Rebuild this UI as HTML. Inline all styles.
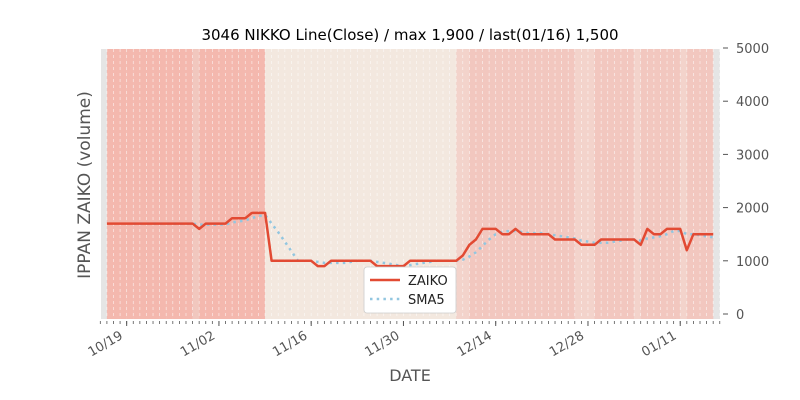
<!DOCTYPE html>
<html><head><meta charset="utf-8"><style>
body{margin:0;background:#fff;font-family:"Liberation Sans","DejaVu Sans",sans-serif}
svg{display:block}
</style></head><body>
<svg id="chart" width="800" height="400" viewBox="0 0 800 400" xmlns="http://www.w3.org/2000/svg">
<rect x="0" y="0" width="800" height="400" fill="#fff"/>
<text x="410" y="40" font-size="15" text-anchor="middle" fill="#000" font-family="DejaVu Sans, sans-serif">3046 NIKKO Line(Close) / max 1,900 / last(01/16) 1,500</text>
<g id="plot"></g>
<text transform="translate(90,185) rotate(-90)" font-size="17" text-anchor="middle" fill="#555" font-family="DejaVu Sans, sans-serif">IPPAN ZAIKO (volume)</text>
<text x="410" y="381" font-size="16" text-anchor="middle" fill="#555" font-family="DejaVu Sans, sans-serif">DATE</text>
<g>
<rect x="364" y="267" width="92" height="46" rx="3" fill="#fff" stroke="#ccc" stroke-width="0.8"/>
<line x1="370" y1="280" x2="400" y2="280" stroke="#e24a33" stroke-width="2.5"/>
<text x="408" y="285" font-size="13" fill="#222" font-family="DejaVu Sans, sans-serif">ZAIKO</text>
<line x1="370" y1="299" x2="400" y2="299" stroke="#92c6e0" stroke-width="2.5" stroke-dasharray="2.5 4.2"/>
<text x="408" y="304" font-size="13" fill="#222" font-family="DejaVu Sans, sans-serif">SMA5</text>
</g>
</svg>
<script>
const zaiko=[1700,1700,1700,1700,1700,1700,1700,1700,1700,1700,1700,1700,1700,1700,1600,1700,1700,1700,1700,1800,1800,1800,1900,1900,1900,
1000,1000,1000,1000,1000,1000,1000,900,900,1000,1000,1000,1000,1000,1000,1000,900,900,900,900,900,1000,1000,1000,1000,1000,1000,1000,1000,
1100,1300,1400,1600,1600,1600,1500,1500,1600,1500,1500,1500,1500,1500,1400,1400,1400,1400,1300,1300,1300,1400,1400,1400,1400,1400,1400,1300,1600,1500,1500,1600,1600,1600,1200,1500,1500,1500,1500];
const sma5=[null,null,null,null,1700,1700,1700,1700,1700,1700,1700,1700,1700,1700,1680,1680,1680,1680,1680,1720,1740,1760,1800,1840,1860,
1700,1540,1360,1180,1000,1000,1000,980,960,960,960,960,980,1000,1000,1000,980,960,940,920,900,920,940,960,980,1000,1000,1000,1000,
1020,1080,1160,1280,1400,1500,1540,1560,1560,1540,1520,1520,1520,1500,1480,1460,1440,1420,1380,1360,1340,1340,1340,1360,1380,1400,1400,1380,1420,1440,1460,1500,1560,1560,1500,1500,1480,1460,1440];
// background band category per day interval: 1=red,2=light red,3=beige,4=light pink,5=pink
const bands=[1,1,1,1,1,1,1,1,1,1,1,1,1,2,1,1,1,1,1,1,1,1,1,1,
3,3,3,3,3,3,3,3,3,3,3,3,3,3,3,3,3,3,3,3,3,3,3,3,3,3,3,3,3,
4,4,5,5,5,5,5,5,5,5,5,5,5,5,5,5,5,5,4,4,4,5,5,5,5,5,5,4,5,5,5,5,5,5,4,5,5,5,5];
const yTicks=[0,1000,2000,3000,4000,5000];
const xTickLabels=["10/19","11/02","11/16","11/30","12/14","12/28","01/11"];
const xTickDays=[3,17,31,45,59,73,87];
const bandColors=["#e5e5e5","#f4b8ae","#f1c7be","#f3e8df","#f3d3cb","#f2c7bf"];
const NS="http://www.w3.org/2000/svg";
const L=101,R=720,T=49,B=319;
const X=d=>106.9+6.59*d;
const Y=v=>314-v*0.0532;
const g=document.getElementById('plot');
function mk(t,a){const e=document.createElementNS(NS,t);for(const k in a)e.setAttribute(k,a[k]);g.appendChild(e);return e;}
const bg=mk('rect',{x:L,y:T,width:R-L,height:B-T,fill:'#e5e5e5'});


bands.forEach((c,i)=>{const r=mk('rect',{x:X(i),y:T,width:6.7,height:B-T,fill:bandColors[c]});

});
for(let d=-1;d<=93;d++){const l=mk('line',{x1:X(d),x2:X(d),y1:T,y2:B,stroke:'#fff','stroke-width':0.7,'stroke-dasharray':'3 3',opacity:0.7});


const t=mk('line',{x1:X(d),x2:X(d),y1:B+2,y2:B+5,stroke:'#555','stroke-width':0.8});

}
xTickDays.forEach((d,i)=>{const t=mk('line',{x1:X(d),x2:X(d),y1:B+2,y2:B+7,stroke:'#555','stroke-width':1});


const tx=mk('text',{x:0,y:0,'font-size':13,fill:'#555','text-anchor':'end','font-family':'DejaVu Sans, sans-serif',transform:`translate(${X(d)-3},${B+19}) rotate(-30)`});
tx.textContent=xTickLabels[i];

});
yTicks.forEach(v=>{const t=mk('line',{x1:R+3,x2:R+8,y1:Y(v),y2:Y(v),stroke:'#555','stroke-width':1});


const tx=mk('text',{x:R+16,y:Y(v)+5,'font-size':13,fill:'#555','font-family':'DejaVu Sans, sans-serif'});
tx.textContent=v;

});
let ps=[];sma5.forEach((v,i)=>{if(v!==null)ps.push(X(i).toFixed(1)+','+Y(v).toFixed(1));});
const sl=mk('polyline',{points:ps.join(' '),fill:'none',stroke:'#92c6e0','stroke-width':2.5,'stroke-dasharray':'2.5 4.2'});


const zl=mk('polyline',{points:zaiko.map((v,i)=>X(i).toFixed(1)+','+Y(v).toFixed(1)).join(' '),fill:'none',stroke:'#e24a33','stroke-width':2.5,'stroke-linejoin':'round'});


</script>
</body></html>
